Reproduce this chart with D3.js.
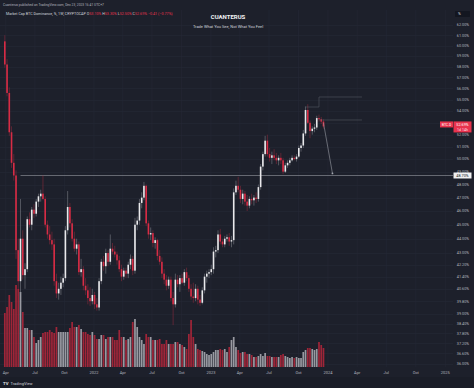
<!DOCTYPE html>
<html>
<head>
<meta charset="utf-8">
<script src="https://cdn.jsdelivr.net/npm/d3@7"></script>
<style>
  body { margin: 0; background: #1d202b; }
  svg { display: block; font-family: Roboto, "Liberation Sans", sans-serif; }
</style>
</head>
<body>
<div id="chart"></div>
<script>
// weekly candles of CRYPTOCAP:BTC.D, first bar on this Monday
const firstWeek = "2021-03-29";

// [open, high, low, close] in %
const candles = [
  [60.4, 61.0, 57.9, 58.2], [58.2, 58.7, 55.3, 55.6], [55.6, 56.1, 51.9, 52.2], [52.2, 52.7, 49.3, 49.7],
  [49.7, 50.4, 48.3, 48.7], [48.7, 49.1, 42.6, 43.2], [43.2, 44.0, 40.1, 41.1], [41.1, 46.9, 40.3, 44.0],
  [44.0, 44.6, 41.2, 41.5], [41.5, 42.3, 40.6, 41.9], [41.9, 45.6, 41.7, 45.4], [45.4, 45.9, 44.8, 45.0],
  [45.0, 46.3, 44.6, 46.1], [46.1, 46.5, 45.5, 45.8], [45.8, 46.9, 45.6, 46.7], [46.7, 47.3, 46.3, 47.1],
  [47.1, 47.6, 46.7, 47.3], [47.3, 48.7, 46.8, 46.9], [46.9, 47.1, 44.8, 45.0], [45.0, 45.3, 44.0, 44.3],
  [44.3, 44.9, 43.6, 43.9], [43.9, 44.5, 43.2, 43.6], [43.6, 44.0, 40.8, 41.1], [41.1, 41.6, 40.0, 40.3],
  [40.3, 41.0, 39.9, 40.6], [40.6, 41.4, 40.2, 41.0], [41.0, 41.6, 40.7, 41.3], [41.3, 44.9, 41.1, 44.6],
  [44.6, 47.5, 44.3, 46.3], [46.3, 46.6, 44.8, 45.1], [45.1, 45.4, 43.8, 44.0], [44.0, 44.5, 43.1, 43.3],
  [43.3, 44.0, 42.9, 43.6], [43.6, 43.8, 41.5, 41.7], [41.7, 42.6, 41.4, 41.9], [41.9, 42.1, 40.5, 40.8],
  [40.8, 41.3, 40.2, 40.5], [40.5, 40.9, 39.6, 40.0], [40.0, 40.7, 39.5, 39.8], [39.8, 40.6, 39.6, 40.2],
  [40.2, 40.4, 39.3, 39.6], [39.6, 40.0, 39.2, 39.4], [39.4, 41.3, 39.2, 41.1], [41.1, 42.6, 40.9, 42.4],
  [42.4, 42.8, 41.8, 42.1], [42.1, 43.3, 41.6, 43.0], [43.0, 43.2, 42.1, 42.4], [42.4, 44.3, 42.2, 43.3],
  [43.3, 43.7, 42.9, 43.1], [43.1, 43.5, 42.7, 42.9], [42.9, 43.1, 42.2, 42.5], [42.5, 42.8, 41.7, 41.9],
  [41.9, 42.2, 41.1, 41.4], [41.4, 42.0, 41.2, 41.8], [41.8, 42.0, 41.3, 41.6], [41.6, 42.4, 41.3, 42.2],
  [42.2, 42.9, 41.9, 42.6], [42.6, 42.8, 41.5, 41.8], [41.8, 45.5, 41.6, 45.0], [45.0, 45.6, 44.6, 45.3],
  [45.3, 46.9, 45.0, 46.6], [46.6, 47.4, 46.2, 47.0], [47.0, 48.2, 46.8, 47.9], [47.9, 48.0, 44.9, 45.1],
  [45.1, 45.3, 44.0, 44.3], [44.3, 44.8, 43.9, 44.4], [44.4, 44.6, 43.4, 43.7], [43.7, 44.1, 43.3, 43.9],
  [43.9, 44.0, 42.5, 42.8], [42.8, 43.2, 42.2, 42.4], [42.4, 42.7, 41.3, 41.6], [41.6, 41.9, 40.9, 41.2],
  [41.2, 41.5, 40.5, 40.8], [40.8, 41.4, 40.6, 41.2], [41.2, 41.4, 39.8, 40.0], [40.0, 40.4, 38.3, 39.6],
  [39.6, 41.6, 39.4, 41.2], [41.2, 41.5, 40.7, 40.9], [40.9, 41.5, 40.4, 41.3], [41.3, 41.6, 40.9, 41.0],
  [41.0, 41.9, 40.8, 41.7], [41.7, 42.0, 41.1, 41.3], [41.3, 41.5, 40.4, 40.6], [40.6, 40.9, 39.9, 40.1],
  [40.1, 41.0, 39.7, 40.0], [40.0, 40.9, 39.8, 40.6], [40.6, 40.8, 39.6, 39.9], [39.9, 40.2, 39.5, 39.7],
  [39.7, 40.7, 39.6, 40.5], [40.5, 41.6, 40.3, 41.4], [41.4, 41.8, 41.0, 41.6], [41.6, 41.9, 41.3, 41.7],
  [41.7, 42.2, 41.5, 41.9], [41.9, 43.4, 41.6, 43.1], [43.1, 43.5, 42.7, 43.2], [43.2, 44.6, 43.0, 44.3],
  [44.3, 44.7, 43.6, 43.8], [43.8, 44.0, 43.4, 43.6], [43.6, 44.2, 43.4, 44.0], [44.0, 44.3, 43.8, 44.1],
  [44.1, 44.4, 43.5, 43.8], [43.8, 44.2, 43.4, 43.9], [43.9, 47.7, 43.6, 47.4], [47.4, 48.3, 47.2, 47.9],
  [47.9, 48.6, 47.4, 47.6], [47.6, 47.9, 46.6, 46.9], [46.9, 47.6, 46.5, 47.3], [47.3, 47.5, 46.4, 46.7],
  [46.7, 47.2, 46.0, 46.4], [46.4, 47.1, 46.2, 46.9], [46.9, 47.3, 46.5, 46.8], [46.8, 47.2, 46.4, 47.0],
  [47.0, 47.4, 46.6, 46.9], [46.9, 48.0, 46.7, 47.8], [47.8, 49.6, 47.6, 49.4], [49.4, 50.6, 49.1, 50.4],
  [50.4, 51.9, 50.2, 51.5], [51.5, 52.0, 50.2, 50.4], [50.4, 50.9, 49.8, 50.1], [50.1, 50.6, 49.6, 50.3],
  [50.3, 50.8, 49.9, 50.1], [50.1, 50.5, 49.6, 49.9], [49.9, 50.3, 49.5, 50.1], [50.1, 50.5, 49.6, 49.9],
  [49.9, 50.1, 48.8, 49.0], [49.0, 49.7, 48.9, 49.5], [49.5, 49.9, 49.3, 49.7], [49.7, 50.1, 49.5, 49.9],
  [49.9, 50.3, 49.8, 50.1], [50.1, 50.3, 49.9, 50.0], [50.0, 50.4, 49.8, 50.2], [50.2, 51.1, 50.1, 50.9],
  [50.9, 51.3, 50.6, 51.1], [51.1, 52.4, 50.9, 52.1], [52.1, 54.4, 51.9, 54.1], [54.1, 54.6, 52.9, 53.0],
  [53.0, 53.2, 51.7, 52.3], [52.3, 52.7, 52.0, 52.5], [52.5, 52.9, 52.2, 52.6], [52.6, 53.6, 52.4, 53.4],
  [53.4, 53.7, 53.1, 53.3], [53.3, 53.5, 52.9, 53.1], [53.1, 53.3, 52.5, 52.69]
];

const volumes = [
  54, 60, 72, 65, 58, 82, 78, 75, 55, 39,
  39, 37, 37, 30, 24, 27, 30, 34, 35, 35,
  37, 35, 34, 40, 35, 35, 35, 35, 35, 39,
  45, 40, 40, 42, 38, 35, 35, 33, 32, 35,
  32, 28, 28, 32, 32, 28, 30, 30, 30, 27,
  27, 37, 30, 30, 27, 28, 30, 45, 48, 40,
  30, 27, 23, 33, 30, 30, 27, 27, 27, 28,
  23, 23, 27, 23, 23, 23, 25, 25, 23, 22,
  20, 18, 33, 47, 30, 23, 18, 17, 16, 15,
  13, 12, 13, 15, 17, 17, 18, 17, 18, 15,
  20, 27, 30, 20, 17, 14, 15, 15, 13, 13,
  12, 10, 10, 11, 13, 11, 14, 11, 11, 10,
  10, 10, 10, 12, 13, 11, 10, 9, 10, 9,
  10, 9, 9, 15, 17, 19, 19, 18, 17, 18,
  25, 22, 19
];

const priceTicks = [62, 61, 60, 59, 58, 57, 56, 55, 54, 53, 52, 51, 50, 49, 48, 47, 46, 45, 44, 43,
  42.2, 41.4, 40.6, 39.8, 39, 38.4, 37.8, 37.2, 36.6, 36];
const dateTicks = ["2021-04-01", "2021-07-01", "2021-10-01", "2022-01-01", "2022-04-01", "2022-07-01",
  "2022-10-01", "2023-01-01", "2023-04-01", "2023-07-01", "2023-10-01", "2024-01-01", "2024-04-01",
  "2024-07-01", "2024-10-01", "2025-01-01"];

const supportLevel = 48.70;
const supportFrom = "2021-05-17";
const lastPrice = 52.69;
// drawing tools: [date, value] points
const rangeTop = [["2023-10-21", 54.36], ["2023-12-04", 54.36], ["2023-12-04", 55.24], ["2024-04-16", 55.24]];
const rangeMid = [["2023-12-04", 53.24], ["2024-04-16", 53.24]];
const projection = [["2023-12-18", 53.0], ["2024-01-15", 48.86]];

const W = 474, H = 388;
const plotRight = 453, paneTop = 10, paneBottom = 367;
const bg = "#1d202b";
const upColor = "#e9e9ec", downColor = "#d72c45";

const svg = d3.select("#chart").append("svg")
  .attr("width", W).attr("height", H);

svg.append("rect").attr("width", W).attr("height", H).attr("fill", bg);
svg.append("rect").attr("y", 377).attr("width", W).attr("height", H - 377).attr("fill", "#1a1d27");

const parse = d3.utcParse("%Y-%m-%d");
const x = d3.scaleUtc()
  .domain([parse("2021-03-14"), parse("2025-01-25")])
  .range([0, plotRight]);
const y = d3.scaleLog()
  .domain([35.81, 63.52])
  .range([paneBottom, paneTop]);
const v = d3.scaleLinear()
  .domain([0, d3.max(volumes)])
  .range([paneBottom, 285]);

const start = parse(firstWeek);
const bars = candles.map((c, i) => ({
  date: d3.utcDay.offset(start, 7 * i),
  o: c[0], h: c[1], l: c[2], c: c[3], vol: volumes[i]
}));

svg.append("clipPath").attr("id", "pane")
  .append("rect").attr("x", 0).attr("y", paneTop).attr("width", plotRight).attr("height", paneBottom - paneTop);

// grid
const grid = svg.append("g").attr("clip-path", "url(#pane)");
grid.selectAll("line.h").data(priceTicks).enter().append("line")
  .attr("x1", 0).attr("x2", plotRight)
  .attr("y1", d => Math.round(y(d)) + 0.5).attr("y2", d => Math.round(y(d)) + 0.5)
  .attr("stroke", "#252936").attr("stroke-width", 0.6);
grid.selectAll("line.v").data(dateTicks).enter().append("line")
  .attr("y1", paneTop).attr("y2", paneBottom)
  .attr("x1", d => x(parse(d))).attr("x2", d => x(parse(d)))
  .attr("stroke", "#252936").attr("stroke-width", 0.6);

const pane = svg.append("g").attr("clip-path", "url(#pane)");

// volume
pane.selectAll("rect.vol").data(bars).enter().append("rect")
  .attr("x", d => x(d.date) - 0.85)
  .attr("width", 1.7)
  .attr("y", d => v(d.vol))
  .attr("height", d => paneBottom - v(d.vol))
  .attr("fill", d => d.c >= d.o ? "rgba(200,200,206,0.72)" : "rgba(196,38,60,0.78)");

// support line
pane.append("line")
  .attr("x1", x(parse(supportFrom))).attr("x2", plotRight)
  .attr("y1", y(supportLevel)).attr("y2", y(supportLevel))
  .attr("stroke", "#9a9da6").attr("stroke-width", 0.6);

// candles
const cg = pane.selectAll("g.candle").data(bars).enter().append("g");
cg.append("line")
  .attr("x1", d => x(d.date)).attr("x2", d => x(d.date))
  .attr("y1", d => y(d.h)).attr("y2", d => y(d.l))
  .attr("stroke", d => d.c >= d.o ? "#8c8e96" : "#9a2c3e")
  .attr("stroke-width", 0.5);
cg.append("rect")
  .attr("x", d => x(d.date) - 0.8)
  .attr("width", 1.6)
  .attr("y", d => y(Math.max(d.o, d.c)))
  .attr("height", d => Math.max(0.6, Math.abs(y(d.o) - y(d.c))))
  .attr("fill", d => d.c >= d.o ? upColor : downColor);

// drawings
const line = d3.line().x(p => x(parse(p[0]))).y(p => y(p[1]));
[rangeTop, rangeMid].forEach(pts => {
  pane.append("path").attr("d", line(pts))
    .attr("fill", "none").attr("stroke", "#5f636d").attr("stroke-width", 0.5);
});
pane.append("path").attr("d", line(projection))
  .attr("fill", "none").attr("stroke", "#9a9da6").attr("stroke-width", 0.6);
const end = projection[1];
pane.append("circle")
  .attr("cx", x(parse(end[0]))).attr("cy", y(end[1])).attr("r", 0.9)
  .attr("fill", "#a3a6af");

// price axis (labels under the last-price box are hidden, as on the chart)
const ly = y(lastPrice);
const pa = svg.append("g");
pa.selectAll("text").data(priceTicks.filter(d => Math.abs(y(d) - ly) > 5)).enter().append("text")
  .attr("x", 463).attr("y", d => y(d)).attr("dy", "0.35em")
  .attr("text-anchor", "middle")
  .attr("font-size", 3.8).attr("fill", "#b2b5be")
  .text(d => d.toFixed(2) + "%");

// unit box
svg.append("rect").attr("x", 455).attr("y", 11).attr("width", 15).attr("height", 6)
  .attr("rx", 0.8).attr("fill", "#131620");
svg.append("text").attr("x", 458).attr("y", 15.3).attr("font-size", 3.8)
  .attr("fill", "#d1d4dc").text("%");

// support label
svg.append("rect").attr("x", 453.5).attr("y", y(supportLevel) - 3).attr("width", 18).attr("height", 6)
  .attr("fill", "#f0f0f2");
svg.append("text").attr("x", 462.5).attr("y", y(supportLevel)).attr("dy", "0.35em")
  .attr("text-anchor", "middle").attr("font-size", 3.8).attr("fill", "#131722")
  .text(supportLevel.toFixed(2) + "%");

// last price label
svg.append("rect").attr("x", 440).attr("y", ly - 5).attr("width", 13).attr("height", 6)
  .attr("fill", "#e8334d");
svg.append("text").attr("x", 446.5).attr("y", ly - 2).attr("dy", "0.35em")
  .attr("text-anchor", "middle").attr("font-size", 3.4).attr("fill", "#fff").text("BTC.D");
svg.append("rect").attr("x", 453.5).attr("y", ly - 5).attr("width", 18).attr("height", 11)
  .attr("fill", "#e8334d");
svg.append("text").attr("x", 462.5).attr("y", ly - 2).attr("dy", "0.35em")
  .attr("text-anchor", "middle").attr("font-size", 3.8).attr("fill", "#fff").text(lastPrice.toFixed(2) + "%");
svg.append("text").attr("x", 462.5).attr("y", ly + 3).attr("dy", "0.35em")
  .attr("text-anchor", "middle").attr("font-size", 3.6).attr("fill", "#fde").text("1d 14h");

// time axis
const ta = svg.append("g");
ta.selectAll("text").data(dateTicks).enter().append("text")
  .attr("x", d => x(parse(d))).attr("y", 373).attr("dy", "0.35em")
  .attr("text-anchor", "middle").attr("font-size", 4).attr("fill", "#b2b5be")
  .text(d => {
    const dt = parse(d);
    return dt.getUTCMonth() === 0 ? d3.utcFormat("%Y")(dt) : d3.utcFormat("%b")(dt);
  });

// header
svg.append("text").attr("x", 3).attr("y", 6.2).attr("font-size", 3.3).attr("fill", "#b2b5be")
  .text("Cuanterus published on TradingView.com, Dec 23, 2023 16:41 UTC+7");

const legend = svg.append("text").attr("x", 6).attr("y", 15.3).attr("font-size", 3.7).attr("fill", "#d1d4dc");
legend.append("tspan").text("Market Cap BTC Dominance, %, 1W, CRYPTOCAP  ");
const last = candles[candles.length - 1];
const prev = candles[candles.length - 2];
[["O", last[0]], ["H", last[1]], ["L", last[2]], ["C", last[3]]].forEach(([k, val]) => {
  legend.append("tspan").attr("fill", "#d1d4dc").text(k);
  legend.append("tspan").attr("fill", "#e8334d").text(val.toFixed(2) + "%  ");
});
const chg = last[3] - prev[3];
legend.append("tspan").attr("fill", "#e8334d")
  .text(d3.format("+.2f")(chg).replace("-", "−") + " (" + d3.format("+.2%")(chg / prev[3]).replace("-", "−") + ")");

svg.append("text").attr("x", 228).attr("y", 19).attr("text-anchor", "middle")
  .attr("font-size", 6).attr("font-weight", "bold").attr("fill", "#f2f2f4").text("CUANTERUS");
svg.append("text").attr("x", 228).attr("y", 27.5).attr("text-anchor", "middle")
  .attr("font-size", 4).attr("fill", "#d1d4dc").text("Trade What You See, Not What You Feel");

// footer
svg.append("text").attr("x", 3).attr("y", 384.8).attr("font-size", 4.2).attr("font-weight", "bold")
  .attr("fill", "#e6e7ea").text("TV");
svg.append("text").attr("x", 10.5).attr("y", 384.8).attr("font-size", 4).attr("fill", "#d1d4dc")
  .text("TradingView");
</script>
</body>
</html>
